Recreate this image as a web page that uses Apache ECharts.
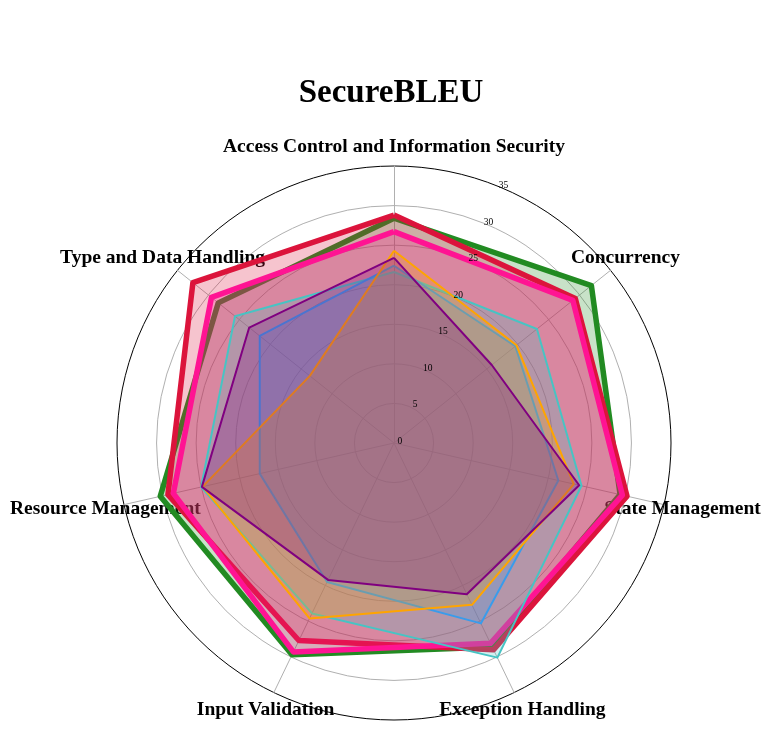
<!DOCTYPE html>
<html>
<head>
<meta charset="utf-8">
<script src="https://cdn.jsdelivr.net/npm/echarts@6/dist/echarts.min.js"></script>
<style>
  html, body { margin: 0; padding: 0; background: #fff; }
  #chart { width: 782px; height: 730px; }
</style>
</head>
<body>
<div id="chart"></div>
<script>
// categories, listed clockwise from the top as in the picture
const categories = [
  'Access Control and Information Security',
  'Concurrency',
  'State Management',
  'Exception Handling',
  'Input Validation',
  'Resource Management',
  'Type and Data Handling'
];
const maxValue = 35;
const tickValues = [0, 5, 10, 15, 20, 25, 30, 35];

// one array per model, same order as categories
const greenValues     = [28.4, 31.9, 29.3, 28.6, 29.7, 30.3, 28.4];
const crimsonValues   = [28.8, 29.3, 30.2, 29.0, 27.7, 29.3, 32.5];
const pinkValues      = [26.7, 28.9, 29.6, 28.1, 29.3, 28.6, 29.5];
const turquoiseValues = [21.6, 23.1, 24.3, 30.1, 23.9, 25.0, 25.7];
const blueValues      = [22.4, 19.6, 21.3, 25.3, 19.5, 17.4, 21.7];
const orangeValues    = [24.3, 19.8, 23.3, 22.7, 24.6, 24.8, 13.6];
const purpleValues    = [23.4, 15.8, 24.0, 21.2, 19.2, 24.9, 23.4];

// echarts radar goes counter-clockwise, so keep the first and flip the rest
function clockwise(arr) {
  return [arr[0]].concat(arr.slice(1).reverse());
}

const seriesDefs = [
  { name: 'green',     color: '#228B22', width: 5.5, values: greenValues },
  { name: 'crimson',   color: '#DC143C', width: 5.5, values: crimsonValues },
  { name: 'deeppink',  color: '#FF1493', width: 5.5, values: pinkValues },
  { name: 'turquoise', color: '#48C4C4', width: 2,   values: turquoiseValues },
  { name: 'blue',      color: '#3A9CEB', width: 2,   values: blueValues },
  { name: 'orange',    color: '#FFA500', width: 2,   values: orangeValues },
  { name: 'purple',    color: '#800080', width: 2,   values: purpleValues }
];

const serif = '"Liberation Serif", "Times New Roman", serif';
const center = [394, 443];
const radius = 277;
const grey = '#b0b0b0';

const myChart = echarts.init(document.getElementById('chart'));

const option = {
  backgroundColor: '#fff',
  animation: false,
  title: {
    text: 'SecureBLEU',
    left: 'center',
    top: 77,
    padding: 0,
    textStyle: { fontFamily: serif, fontSize: 33, fontWeight: 'bold', color: '#000' }
  },
  radar: {
    center: center,
    radius: radius,
    startAngle: 90,
    shape: 'circle',
    splitNumber: 7,
    indicator: clockwise(categories).map(function (c) {
      return { name: c, min: 0, max: maxValue };
    }),
    axisName: {
      color: '#000',
      fontFamily: serif,
      fontSize: 19.5,
      fontWeight: 'bold',
      align: 'center',
      verticalAlign: 'middle'
    },
    nameGap: 19,
    axisLine: { lineStyle: { color: grey, width: 1 } },
    splitLine: {
      lineStyle: {
        color: [grey, grey, grey, grey, grey, grey, grey, '#000'],
        width: 1
      }
    },
    splitArea: { show: false }
  },
  // polar overlay only for the small radial tick labels
  polar: { center: center, radius: radius, z: 10 },
  angleAxis: {
    type: 'value', min: 0, max: 360, startAngle: 67.5, z: 10,
    axisLine: { show: false }, axisTick: { show: false },
    axisLabel: { show: false }, splitLine: { show: false }
  },
  radiusAxis: {
    type: 'value', min: 0, max: maxValue, interval: 5, z: 10,
    axisLine: { show: false }, axisTick: { show: false }, splitLine: { show: false },
    axisLabel: {
      fontFamily: serif, fontSize: 9.5, color: '#000', margin: -9,
      verticalAlign: 'bottom',
      formatter: function (v) { return tickValues.indexOf(v) >= 0 ? String(v) : ''; }
    }
  },
  series: seriesDefs.map(function (s) {
    return {
      name: s.name,
      type: 'radar',
      symbol: 'none',
      silent: true,
      data: [{
        value: clockwise(s.values),
        name: s.name,
        lineStyle: { color: s.color, width: s.width },
        areaStyle: { color: s.color, opacity: 0.25 },
        itemStyle: { color: s.color }
      }]
    };
  })
};

myChart.setOption(option);
</script>
</body>
</html>
